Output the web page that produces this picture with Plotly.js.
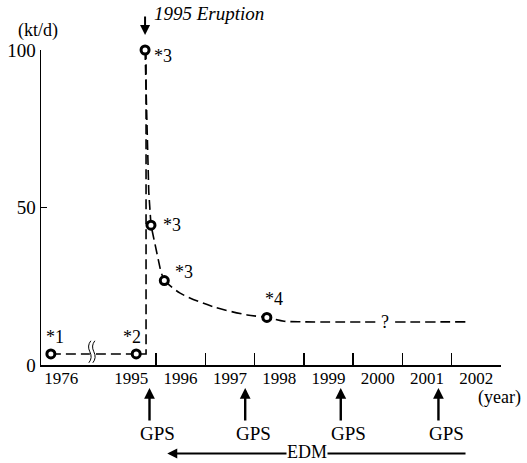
<!DOCTYPE html>
<html>
<head>
<meta charset="utf-8">
<script src="https://cdn.plot.ly/plotly-3.0.1.min.js"></script>
<style>html,body{margin:0;padding:0;background:#fff;}#chart{width:527px;height:463px;}</style>
</head>
<body>
<div id="chart"></div>
<script>
// ---- data (decimal years, SO2 flux in kt/d) ----
const obsYears  = [1976.29, 1995.60, 1995.78, 1995.90, 1996.17, 1998.25];
const obsValues = [3.5, 3.5, 100, 44.4, 26.8, 15.1];
const obsLabels = ['*1', '*2', '*3', '*3', '*3', '*4'];

const riseYears  = [1976.29, 1995.60, 1995.80, 1995.80];
const riseValues = [3.5, 3.5, 3.5, 100];

const fallYears  = [1995.78, 1995.83, 1995.855, 1995.90, 1996.10, 1996.17];
const fallValues = [100, 75, 55, 44.4, 29.6, 26.8];

const tailYears  = [1996.17, 1996.49, 1997.16, 1997.85, 1998.25, 1998.6, 1999.0, 2002.38];
const tailValues = [26.8, 22.8, 18.5, 15.9, 15.1, 13.9, 13.7, 13.7];

const unknownYear = 2000.65, unknownValue = 13.7;

const tickLabels = ['1976', '1995', '1996', '1997', '1998', '1999', '2000', '2001', '2002'];
const labelYears = [1976.5, 1995.5, 1996.5, 1997.5, 1998.5, 1999.5, 2000.5, 2001.5, 2002.5];
const tickYears  = [1996, 1997, 1998, 1999, 2000, 2001, 2002, 2003];
const yTicks = [0, 50, 100];

const eruptionYear = 1995.78;
const gpsYears = [1995.87, 1997.81, 1999.75, 2001.73];
const edmStart = 1996.23, edmEnd = 2002.31;

const breakFrom = 1977.42, breakTo = 1995.0;   // axis break
const rangeFrom = 1976.09, rangeTo = 2003.0;
const breakMarkYear = 1977.14;

// ---- helpers ----
function yd(y) {
  const yr = Math.floor(y), f = y - yr;
  const s = Date.UTC(yr, 0, 1), e = Date.UTC(yr + 1, 0, 1);
  return new Date(s + f * (e - s)).toISOString().slice(0, 19).replace('T', ' ');
}
const D = a => a.map(yd);

const FONT = 'Liberation Serif, Times New Roman, serif';
const lineStyle = {color: '#000', width: 1.6, dash: '10px,5px'};

const traces = [
  {x: D(riseYears), y: riseValues, mode: 'lines', line: lineStyle, xaxis: 'x', yaxis: 'y', hoverinfo: 'skip'},
  {x: D(fallYears), y: fallValues, mode: 'lines', line: lineStyle, xaxis: 'x', yaxis: 'y', hoverinfo: 'skip'},
  {x: D(tailYears), y: tailValues, mode: 'lines', line: Object.assign({shape: 'spline', smoothing: 0.8}, lineStyle), xaxis: 'x', yaxis: 'y', hoverinfo: 'skip'},
  {x: D(obsYears), y: obsValues, mode: 'markers', xaxis: 'x2', yaxis: 'y', cliponaxis: false,
   marker: {symbol: 'circle', size: 8, color: '#fff', line: {color: '#000', width: 3}}}
];

const rb = [{bounds: [yd(breakFrom), yd(breakTo)]}];
const xr = [yd(rangeFrom), yd(rangeTo)];

// label offsets (pixels) relative to each observation
const lblOff = [[4, -17, 'center'], [-4, -17, 'center'], [7, 6, 'left'], [10, 0, 'left'], [9, -9, 'left'], [7, -18, 'center']];

const annotations = [];
obsLabels.forEach((t, i) => {
  const o = lblOff[i];
  annotations.push({x: yd(obsYears[i]), y: obsValues[i], xref: 'x', yref: 'y', text: t, showarrow: false,
    xanchor: o[2], yanchor: 'middle', xshift: o[0], yshift: -o[1], font: {family: FONT, size: 18, color: '#000'}});
});
annotations.push({x: yd(unknownYear), y: unknownValue, xref: 'x', yref: 'y', text: '?', showarrow: false,
  bgcolor: '#fff', borderpad: 3, font: {family: FONT, size: 18, color: '#000'}});
// axis unit labels
annotations.push({x: -0.007, y: 1.063, xref: 'paper', yref: 'paper', text: '(kt/d)', showarrow: false,
  xanchor: 'center', yanchor: 'middle', font: {family: FONT, size: 18, color: '#000'}});
annotations.push({x: 0.997, y: -0.102, xref: 'paper', yref: 'paper', text: '(year)', showarrow: false,
  xanchor: 'center', yanchor: 'middle', font: {family: FONT, size: 18, color: '#000'}});
// eruption marker
annotations.push({x: yd(eruptionYear), y: 1.048, xref: 'x', yref: 'paper', text: '', showarrow: true,
  ax: 0, ay: -20, arrowhead: 2, arrowsize: 1, arrowwidth: 2, arrowcolor: '#000'});
annotations.push({x: yd(eruptionYear), y: 1.116, xref: 'x', yref: 'paper', text: '<i>1995 Eruption</i>', showarrow: false,
  xanchor: 'left', yanchor: 'middle', xshift: 7, font: {family: FONT, size: 19, color: '#000'}});
// GPS surveys
gpsYears.forEach(g => {
  annotations.push({x: yd(g), y: -0.073, xref: 'x', yref: 'paper', text: '', showarrow: true,
    ax: 0, ay: 34, arrowhead: 2, arrowsize: 0.9, arrowwidth: 2.4, arrowcolor: '#000'});
  annotations.push({x: yd(g), y: -0.219, xref: 'x', yref: 'paper', text: 'GPS', showarrow: false,
    xanchor: 'center', yanchor: 'middle', xshift: 8, font: {family: FONT, size: 19, color: '#000'}});
});
// EDM period
annotations.push({x: yd(edmStart), y: -0.281, xref: 'x', yref: 'paper', text: '', showarrow: true,
  axref: 'x', ax: yd(edmEnd), ay: 0, ayref: 'pixel', arrowhead: 2, arrowsize: 1, arrowwidth: 2, arrowcolor: '#000'});
annotations.push({x: yd((edmStart + edmEnd) / 2 - 0.21), y: -0.276, xref: 'x', yref: 'paper', text: 'EDM', showarrow: false,
  bgcolor: '#fff', borderpad: 0, xanchor: 'center', yanchor: 'middle', font: {family: FONT, size: 18, color: '#000'}});

const shapes = [
  {type: 'rect', xref: 'x', yref: 'y', xsizemode: 'pixel', ysizemode: 'pixel', xanchor: yd(breakMarkYear), yanchor: 3.5,
   x0: -3, x1: 3, y0: -9, y1: 9, fillcolor: '#fff', line: {width: 0}, layer: 'above'},
  {type: 'path', xref: 'x', yref: 'y', xsizemode: 'pixel', ysizemode: 'pixel', xanchor: yd(breakMarkYear), yanchor: 4.2,
   path: 'M -4 -11 Q 0 -6 -3 0 Q -6 6 -2 11 M 0 -11 Q 4 -6 1 0 Q -2 6 2 11', line: {color: '#000', width: 1}, layer: 'above'}
];

const layout = {
  width: 527, height: 463,
  margin: {l: 41, r: 26, t: 50, b: 98, pad: 0},
  paper_bgcolor: '#fff', plot_bgcolor: '#fff',
  showlegend: false,
  font: {family: FONT, size: 18, color: '#000'},
  xaxis: {type: 'date', range: xr, rangebreaks: rb, tickmode: 'array', tickvals: D(tickYears), showticklabels: false,
    ticks: 'inside', ticklen: 12, tickwidth: 1.5, tickcolor: '#000', showline: true, linecolor: '#000', linewidth: 1.5,
    showgrid: false, zeroline: false, fixedrange: true},
  xaxis2: {type: 'date', range: xr, rangebreaks: rb, overlaying: 'x', anchor: 'y', side: 'bottom', tickmode: 'array',
    tickvals: D(labelYears), ticktext: tickLabels, ticks: '', ticklabelstandoff: 1, showline: false, showgrid: false, zeroline: false,
    tickfont: {family: FONT, size: 17, color: '#000'}, fixedrange: true},
  yaxis: {range: [0, 100], tickmode: 'array', tickvals: yTicks, ticks: 'inside', ticklen: 6, tickwidth: 1.5, tickcolor: '#000',
    showline: true, linecolor: '#000', linewidth: 1.5, showgrid: false, zeroline: false,
    tickfont: {family: FONT, size: 19, color: '#000'}, fixedrange: true},
  annotations: annotations,
  shapes: shapes
};

Plotly.newPlot('chart', traces, layout, {staticPlot: true, displayModeBar: false});
</script>
</body>
</html>
